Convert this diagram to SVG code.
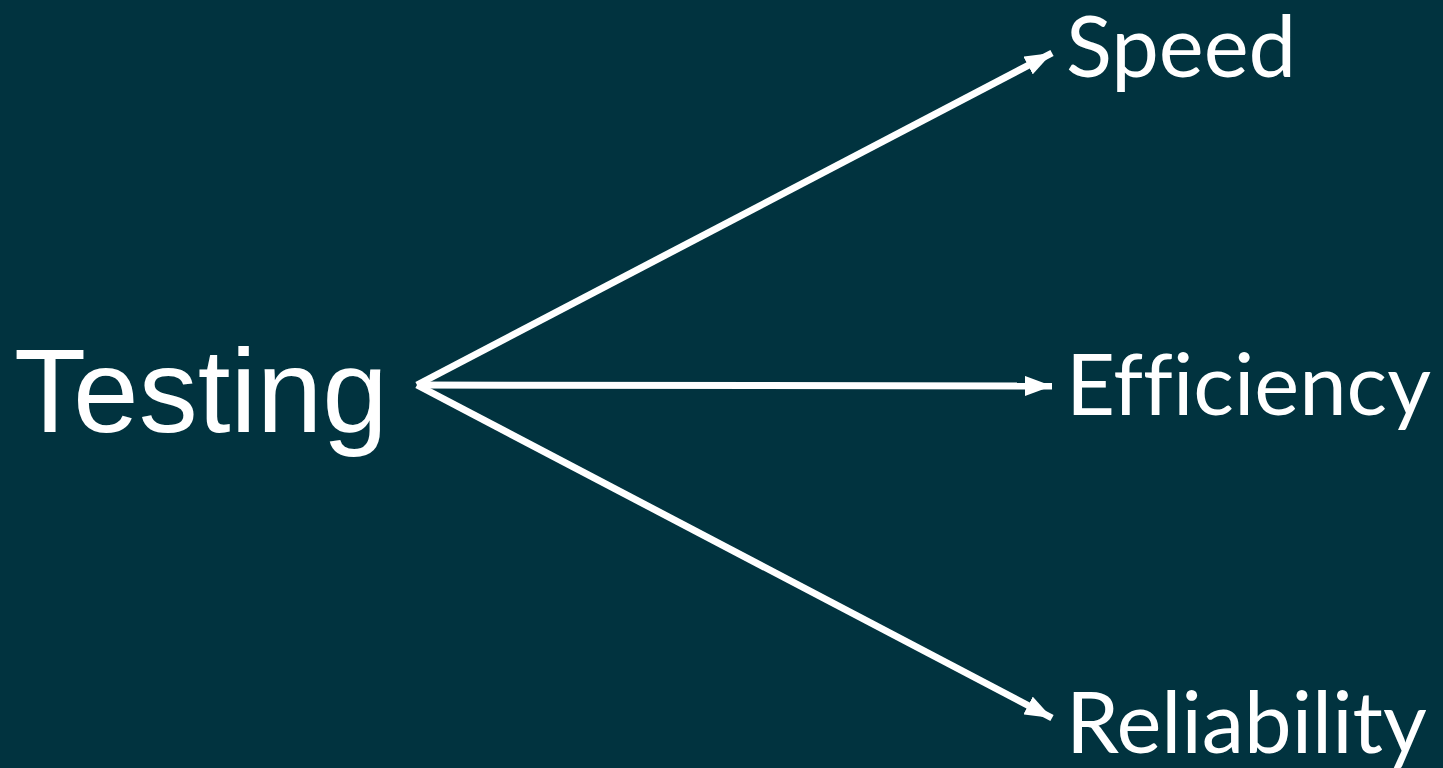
<svg xmlns="http://www.w3.org/2000/svg" width="1443" height="768" viewBox="0 0 1443 768">
<style>
.src{font-family:"Liberation Sans",Arial,sans-serif;font-size:118px;fill:#ffffff}
.lbl{font-family:Lato,"Noto Sans",sans-serif;font-size:85px;fill:#ffffff;font-variant-ligatures:none;font-feature-settings:"liga" 0}
.edge{stroke:#ffffff;stroke-width:7;fill:none}
</style>
<defs>
<marker id="ah" markerWidth="27" markerHeight="20" refX="27" refY="10" orient="auto" markerUnits="userSpaceOnUse">
<path d="M0,0 L27,10 L0,20 Z" fill="#ffffff"/>
</marker>
</defs>
<rect width="1443" height="768" fill="#01333F"/>
<g id="connectors">
<line class="edge" x1="417" y1="385" x2="1052" y2="53" marker-end="url(#ah)"/>
<line class="edge" x1="417" y1="385" x2="1052" y2="386" marker-end="url(#ah)"/>
<line class="edge" x1="417" y1="385" x2="1052" y2="718" marker-end="url(#ah)"/>
</g>
<g id="testing"><text class="src" x="14" y="432">Testing</text></g>
<g id="speed"><text class="lbl" x="1066" y="77">Speed</text></g>
<g id="efficiency"><text class="lbl" x="1066" y="415">Efficiency</text></g>
<g id="reliability"><text class="lbl" x="1066" y="753">Reliability</text></g>
</svg>
